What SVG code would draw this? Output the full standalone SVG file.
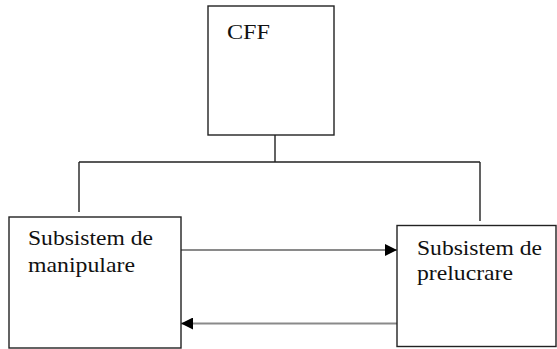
<svg xmlns="http://www.w3.org/2000/svg" width="557" height="349" viewBox="0 0 557 349">
<defs>
<style>
.box{fill:#fff;stroke:#222;stroke-width:1.4}
.tree{fill:none;stroke:#222;stroke-width:1.4}
.flow{fill:none;stroke:#8a8a8a;stroke-width:2.2}
.t{font-family:"Liberation Serif","Times New Roman",serif;font-size:22px;fill:#111}
</style>
<marker id="ah" viewBox="0 0 10 10" refX="10" refY="5" markerWidth="13" markerHeight="12" markerUnits="userSpaceOnUse" orient="auto">
<path d="M0,0 L10,5 L0,10 z" fill="#000"/>
</marker>
</defs>
<g id="connectors">
<path class="tree" d="M275,135 V162 M79,162 H480 M79,162 V212 M480,162 V221"/>
<line class="flow" x1="181" y1="250" x2="397" y2="250" marker-end="url(#ah)"/>
<line class="flow" x1="397" y1="323.5" x2="181" y2="323.5" marker-end="url(#ah)"/>
</g>
<g id="cff">
<rect class="box" x="208" y="6" width="126" height="129"/>
<text class="t" x="227" y="39" textLength="43" lengthAdjust="spacingAndGlyphs">CFF</text>
</g>
<g id="manipulare">
<rect class="box" x="9" y="217" width="172" height="131"/>
<text class="t" x="28" y="245" textLength="125" lengthAdjust="spacingAndGlyphs">Subsistem de</text>
<text class="t" x="28" y="271.5" textLength="107" lengthAdjust="spacingAndGlyphs">manipulare</text>
</g>
<g id="prelucrare">
<rect class="box" x="397" y="225.5" width="159" height="121"/>
<text class="t" x="417" y="255" textLength="125" lengthAdjust="spacingAndGlyphs">Subsistem de</text>
<text class="t" x="417" y="280" textLength="96" lengthAdjust="spacingAndGlyphs">prelucrare</text>
</g>
</svg>
